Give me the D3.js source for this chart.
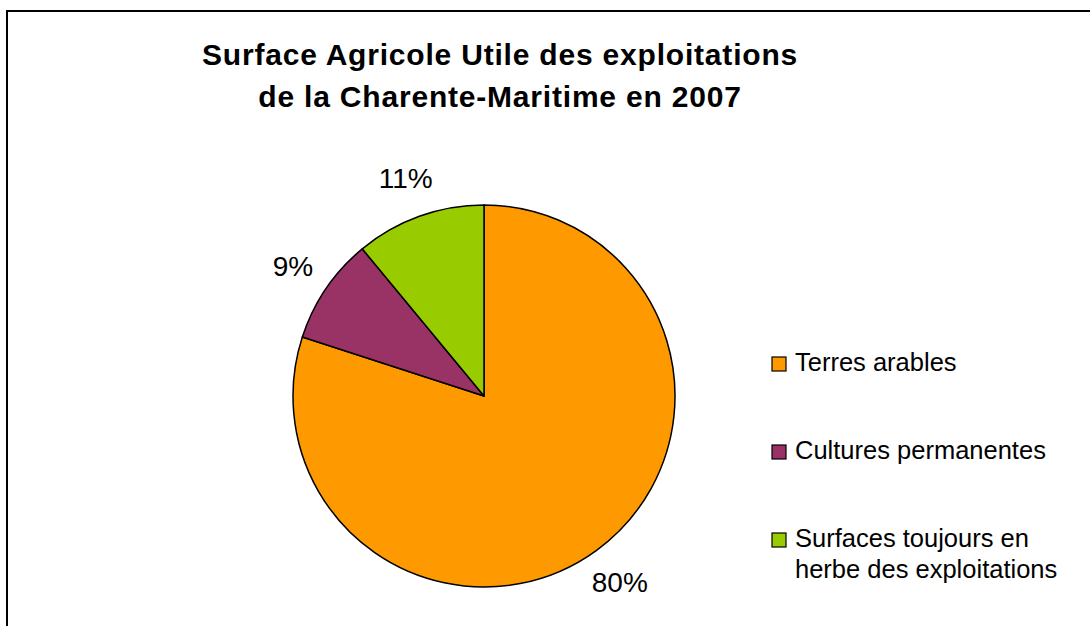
<!DOCTYPE html>
<html>
<head>
<meta charset="utf-8">
<script src="https://cdn.jsdelivr.net/npm/d3@7"></script>
<style>
  html, body { margin: 0; padding: 0; background: #fff; }
  svg { display: block; font-family: "Liberation Sans", Arial, sans-serif; }
</style>
</head>
<body>
<svg id="chart" width="1090" height="626"></svg>
<script>
// Surface Agricole Utile, Charente-Maritime 2007
const categories = ["Terres arables", "Cultures permanentes", "Surfaces toujours en herbe des exploitations"];
const legendLines = [["Terres arables"], ["Cultures permanentes"], ["Surfaces toujours en", "herbe des exploitations"]];
const shares = [80, 9, 11];
const colors = ["#FF9900", "#993366", "#99CC00"];
const titleLines = ["Surface Agricole Utile des exploitations", "de la Charente-Maritime en 2007"];

const W = 1090, H = 626;
const svg = d3.select("#chart");

// chart area frame (runs off the right and bottom edges)
svg.append("rect")
  .attr("x", 7).attr("y", 11)
  .attr("width", W).attr("height", H)
  .attr("fill", "#fff")
  .attr("stroke", "#000")
  .attr("stroke-width", 2);

// title
const title = svg.append("text")
  .attr("text-anchor", "middle")
  .attr("font-weight", "bold")
  .attr("font-size", 30)
  .attr("letter-spacing", 0.8)
  .attr("fill", "#000");
titleLines.forEach((t, i) => {
  title.append("tspan").attr("x", 500).attr("y", 65 + i * 42).text(t);
});

// pie
const cx = 484, cy = 396, r = 191;
const pie = d3.pie().sort(null).value(d => d)(shares);
const arc = d3.arc().innerRadius(0).outerRadius(r);
const g = svg.append("g").attr("transform", `translate(${cx},${cy})`);

g.selectAll("path")
  .data(pie)
  .join("path")
  .attr("d", arc)
  .attr("fill", (d, i) => colors[i])
  .attr("stroke", "#000")
  .attr("stroke-width", 1.5)
  .attr("stroke-linejoin", "round");

// percentage labels outside the slices
const labelArc = d3.arc().innerRadius(r + 40).outerRadius(r + 40);
g.selectAll("text.pct")
  .data(pie)
  .join("text")
  .attr("class", "pct")
  .attr("transform", d => {
    const [x, y] = labelArc.centroid(d);
    return `translate(${x},${y})`;
  })
  .attr("text-anchor", "middle")
  .attr("dominant-baseline", "central")
  .attr("font-size", 28)
  .attr("fill", "#000")
  .text(d => d3.format(".0%")(d.value / d3.sum(shares)));

// legend
const legendX = 772, legendBase0 = 371, legendStep = 88, lineH = 31;
const legend = svg.append("g");
categories.forEach((c, i) => {
  const y = legendBase0 + i * legendStep;
  legend.append("rect")
    .attr("x", legendX).attr("y", y - 14)
    .attr("width", 14).attr("height", 14)
    .attr("fill", colors[i])
    .attr("stroke", "#000")
    .attr("stroke-width", 1.2);
  const t = legend.append("text")
    .attr("font-size", 25.5)
    .attr("fill", "#000");
  legendLines[i].forEach((line, j) => {
    t.append("tspan")
      .attr("x", legendX + 23)
      .attr("y", y + j * lineH)
      .text(line);
  });
});
</script>
</body>
</html>
